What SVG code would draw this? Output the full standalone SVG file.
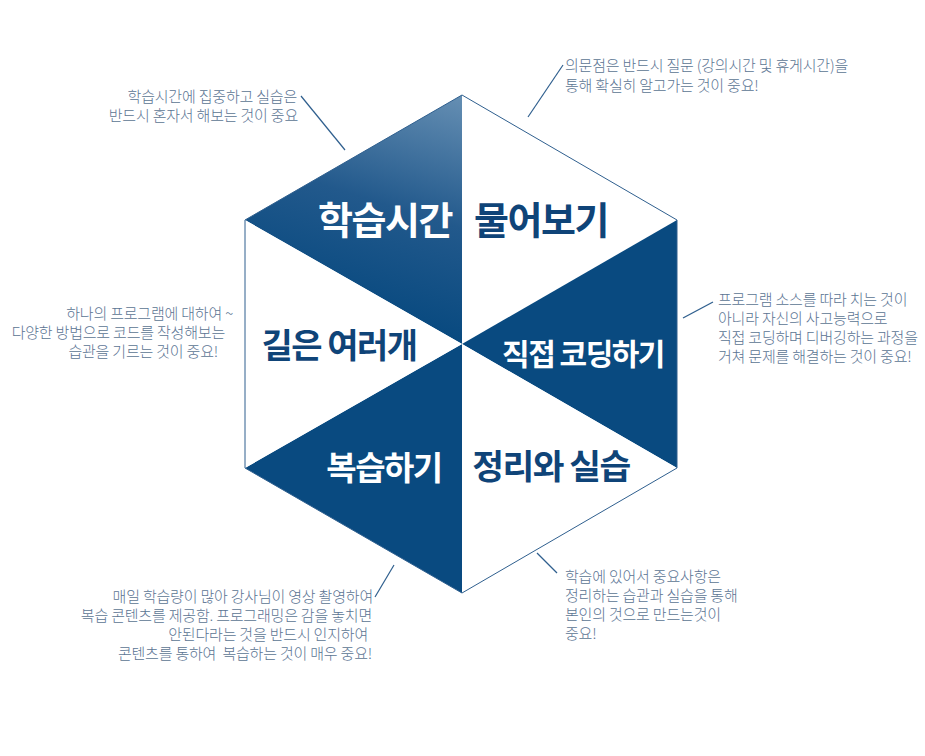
<svg xmlns="http://www.w3.org/2000/svg" width="925" height="756" viewBox="0 0 925 756">
<defs>
<linearGradient id="g1" gradientUnits="userSpaceOnUse" x1="470" y1="95" x2="400" y2="320">
<stop offset="0" stop-color="#6790b4"/>
<stop offset="0.55" stop-color="#22598c"/>
<stop offset="1" stop-color="#094a80"/>
</linearGradient>
<style>
.dark{fill:#094a80}
.white{fill:#ffffff}
.edge{fill:none;stroke:#2f5f8e;stroke-width:1}
.lead{stroke:#2f5f8e;stroke-width:1.2;fill:none}
.big{font-family:"Noto Sans CJK KR","Noto Sans",sans-serif;font-weight:700;text-anchor:middle;letter-spacing:-1.5px}
.bw{fill:#ffffff}
.bd{fill:#0f4478}
.note{font-family:"Noto Sans CJK KR","Noto Sans",sans-serif;font-weight:300;font-size:15px;fill:#5b7493;letter-spacing:-0.2px}
.r{text-anchor:end}
</style>
</defs>
<rect width="925" height="756" fill="#ffffff"/>
<g id="hexagon">
<polygon id="tri-study-time" points="462,344 245,220 462,95" fill="url(#g1)"/>
<polygon id="tri-ask" class="white" points="462,344 462,95 677,220"/>
<polygon id="tri-coding" class="dark" points="462,344 677,220 677,468"/>
<polygon id="tri-practice" class="white" points="462,344 677,468 462,593"/>
<polygon id="tri-review" class="dark" points="462,344 462,593 245,468"/>
<polygon id="tri-ways" class="white" points="462,344 245,468 245,220"/>
<polygon class="edge" points="462,95 677,220 677,468 462,593 245,468 245,220"/>
</g>
<g id="node-study-time"><text class="big bw" x="385" y="234" font-size="38">학습시간</text></g>
<g id="node-ask"><text class="big bd" x="541" y="234" font-size="38">물어보기</text></g>
<g id="node-ways"><text class="big bd" x="339" y="358" font-size="34">길은 여러개</text></g>
<g id="node-coding"><text class="big bw" x="583" y="365" font-size="30">직접 코딩하기</text></g>
<g id="node-review"><text class="big bw" x="384" y="480" font-size="33">복습하기</text></g>
<g id="node-practice"><text class="big bd" x="551" y="479" font-size="34.5">정리와 실습</text></g>
<g id="connectors">
<line class="lead" x1="301" y1="96" x2="345" y2="150"/>
<line class="lead" x1="563" y1="65" x2="528" y2="117"/>
<line class="lead" x1="713" y1="302" x2="683" y2="318"/>
<line class="lead" x1="537" y1="553" x2="557" y2="573"/>
<line class="lead" x1="394" y1="565" x2="375" y2="597"/>
</g>
<g id="note-study-time">
<text class="note r" x="297" y="102">학습시간에 집중하고 실습은</text>
<text class="note r" x="298" y="121">반드시 혼자서 해보는 것이 중요</text>
</g>
<g id="note-ask">
<text class="note" x="565" y="71">의문점은 반드시 질문 (강의시간 및 휴게시간)을</text>
<text class="note" x="565" y="91">통해 확실히 알고가는 것이 중요!</text>
</g>
<g id="note-ways">
<text class="note r" x="233" y="319">하나의 프로그램에 대하여 ~</text>
<text class="note r" x="225" y="338">다양한 방법으로 코드를 작성해보는</text>
<text class="note r" x="218" y="357">습관을 기르는 것이 중요!</text>
</g>
<g id="note-coding">
<text class="note" x="718" y="305">프로그램 소스를 따라 치는 것이</text>
<text class="note" x="718" y="324">아니라 자신의 사고능력으로</text>
<text class="note" x="718" y="343">직접 코딩하며 디버깅하는 과정을</text>
<text class="note" x="718" y="362">거쳐 문제를 해결하는 것이 중요!</text>
</g>
<g id="note-practice">
<text class="note" x="565" y="582">학습에 있어서 중요사항은</text>
<text class="note" x="565" y="601">정리하는 습관과 실습을 통해</text>
<text class="note" x="565" y="620">본인의 것으로 만드는것이</text>
<text class="note" x="565" y="639">중요!</text>
</g>
<g id="note-review">
<text class="note r" x="373" y="602">매일 학습량이 많아 강사님이 영상 촬영하여</text>
<text class="note r" x="372" y="621">복습 콘텐츠를 제공함. 프로그래밍은 감을 놓치면</text>
<text class="note r" x="368" y="640">안된다라는 것을 반드시 인지하여</text>
<text class="note r" x="372" y="659">콘텐츠를 통하여&#160; 복습하는 것이 매우 중요!</text>
</g>
</svg>
